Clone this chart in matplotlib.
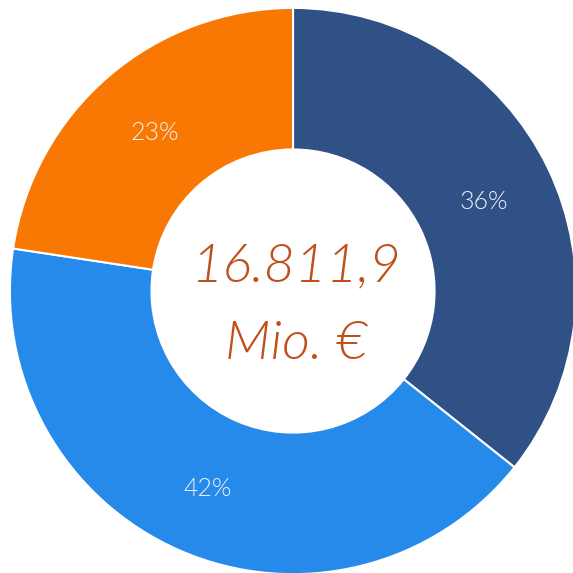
import matplotlib.pyplot as plt
from matplotlib import font_manager as fm

shares = [35.7, 41.7, 22.6]
labels = ['36%', '42%', '23%']
colors = ['#2f5186', '#268aeb', '#f97803']
total_line1 = '16.811,9'
total_line2 = 'Mio. €'


def lato(fname_end):
    for f in fm.fontManager.ttflist:
        if f.fname.endswith(fname_end):
            return f.fname
    return None


reg = lato('Lato-Light.ttf')
ita = lato('Lato-LightItalic.ttf')
fp_label = fm.FontProperties(fname=reg, size=18) if reg else fm.FontProperties(family='Lato', size=18)
fp_center = fm.FontProperties(fname=ita, size=39) if ita else fm.FontProperties(family='Lato', style='italic', size=39)

fig = plt.figure(figsize=(5.73, 5.73), dpi=100)
ax = fig.add_axes([0, 0, 1, 1])

wedges, texts, autotexts = ax.pie(
    shares, colors=colors, startangle=90, counterclock=False,
    radius=1, autopct='%1.0f%%', pctdistance=0.75,
    wedgeprops=dict(width=0.5, edgecolor='white', linewidth=1.5))

for t, lab in zip(autotexts, labels):
    t.set_text(lab)
    t.set_fontproperties(fp_label)
    t.set_color('#eef2fa')
    x, y = t.get_position()
    t.set_position((x, y - 0.012))

ax.text(0.015, 0.087, total_line1, ha='center', va='center',
        fontproperties=fp_center, color='#c0501b')
ax.text(0.01, -0.188, total_line2, ha='center', va='center',
        fontproperties=fp_center, color='#c0501b')

ax.set_xlim(-1.035, 0.989)
ax.set_ylim(-0.996, 1.028)
ax.set_aspect('equal')
ax.axis('off')

fig.savefig('out.png', dpi=100)
